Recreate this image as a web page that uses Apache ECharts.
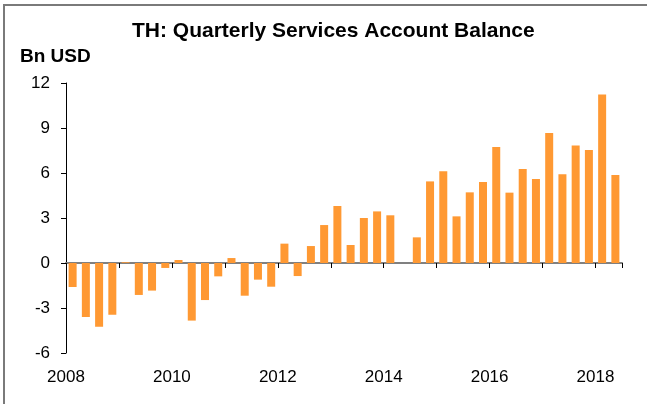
<!DOCTYPE html>
<html>
<head>
<meta charset="utf-8">
<script src="https://cdn.jsdelivr.net/npm/echarts@6/dist/echarts.min.js"></script>
<style>
    html, body { margin: 0; padding: 0; background: #fff; }
    #frame {
        position: absolute; left: 3px; top: 4px; width: 644px; height: 400px;
        border-left: 2px solid #7a7a7a; border-top: 2px solid #7a7a7a;
        box-sizing: border-box;
    }
    #chart { position: absolute; left: 0; top: 0; width: 647px; height: 404px; }
</style>
</head>
<body>
<div id="frame"></div>
<div id="chart"></div>
<script>
    // quarters 2008Q1 .. 2018Q2
    var quarters = [];
    for (var y = 2008; y <= 2018; y++) {
        for (var q = 1; q <= 4; q++) {
            if (y === 2018 && q > 2) break;
            quarters.push(y + 'Q' + q);
        }
    }
    var balance = [
        -1.6, -3.6, -4.25, -3.45,
        0.05, -2.13, -1.84, -0.33,
        0.2, -3.84, -2.47, -0.89,
        0.33, -2.18, -1.11, -1.58,
        1.29, -0.87, 1.13, 2.53,
        3.8, 1.2, 3.0, 3.44,
        3.18, 0, 1.71, 5.44,
        6.11, 3.11, 4.71, 5.4,
        7.73, 4.69, 6.27, 5.6,
        8.67, 5.91, 7.84, 7.53,
        11.24, 5.87
    ];
    var yearLabels = ['2008', '2010', '2012', '2014', '2016', '2018'];

    var font = 'Arial, "Liberation Sans", sans-serif';
    var chart = echarts.init(document.getElementById('chart'));
    var option = {
        animation: false,
        title: [{
            text: 'TH: Quarterly Services Account Balance',
            left: 127,
            top: 16,
            textStyle: { fontFamily: font, fontSize: 21, fontWeight: 'bold', color: '#000' }
        }, {
            text: 'Bn USD',
            left: 15,
            top: 42,
            textStyle: { fontFamily: font, fontSize: 19, fontWeight: 'bold', color: '#000' }
        }],
        grid: { left: 66, right: 25, top: 83, bottom: 51 },
        xAxis: [{
            type: 'category',
            data: quarters,
            boundaryGap: true,
            axisLine: { onZero: true, lineStyle: { color: '#808080', width: 2 } },
            axisTick: { show: true, interval: 3, length: 5, lineStyle: { color: '#000', width: 1 } },
            axisLabel: { show: false }
        }, {
            type: 'value',
            position: 'bottom',
            min: 0,
            max: 42,
            interval: 8,
            axisLine: { show: false },
            axisTick: { show: false },
            splitLine: { show: false },
            axisLabel: {
                margin: 16,
                fontFamily: font,
                fontSize: 17,
                color: '#000',
                formatter: function (v) {
                    return v % 8 === 0 ? (yearLabels[v / 8] || '') : '';
                }
            }
        }],
        yAxis: {
            type: 'value',
            min: -6,
            max: 12,
            interval: 3,
            axisLine: { show: true, lineStyle: { color: '#000', width: 1 } },
            axisTick: { show: true, length: 5, lineStyle: { color: '#000' } },
            splitLine: { show: false },
            axisLabel: { margin: 16, fontFamily: font, fontSize: 17, color: '#000' }
        },
        series: [{
            type: 'bar',
            xAxisIndex: 0,
            data: balance,
            barWidth: 8,
            itemStyle: { color: '#ff9933' }
        }]
    };
    chart.setOption(option);
</script>
</body>
</html>
